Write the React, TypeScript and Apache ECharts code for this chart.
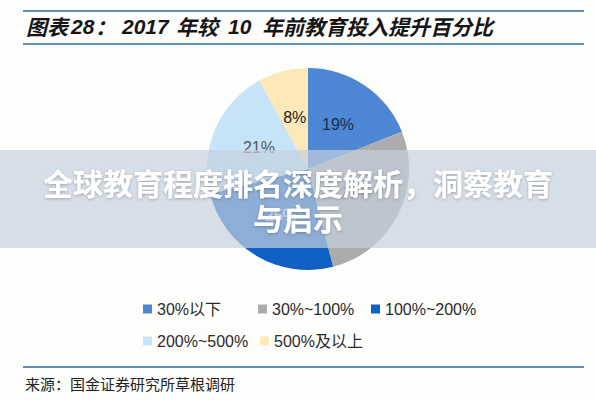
import { useEffect, useRef } from 'react';
import * as echarts from 'echarts';

const categories = ['30%以下', '30%~100%', '100%~200%', '200%~500%', '500%及以上'];
const shares = [19, 27, 25, 21, 8];
const sliceColors = ['#4d87d3', '#acacac', '#1160c4', '#c6e3f8', '#fde9b8'];
const labelColors = ['#1b2d4f', '#6a6a6a', '#ffffff', '#555555', '#222222'];

// legend item anchors (left, centre y) as laid out in the source figure
const legendSpots: [number, number][] = [
  [143, 310],
  [258, 310],
  [371, 310],
  [143, 342],
  [260, 342],
];

const TITLE_PARTS: [string, number][] = [
  ['图表', 26],
  ['28', 71],
  ['：', 95],
  ['2017', 122],
  ['年较', 176],
  ['10', 228],
  ['年前教育投入提升百分比', 262],
];

const LATIN = "Arial, 'Liberation Sans', 'Noto Sans CJK SC', sans-serif";
const CJK = "'Noto Sans CJK SC', sans-serif";

export default function App() {
  const ref = useRef<HTMLDivElement>(null);

  useEffect(() => {
    const el = ref.current;
    if (!el) return;
    const chart = echarts.init(el, undefined, { renderer: 'svg' });

    const ruleStyle = { stroke: '#5f8fb1', lineWidth: 2 };

    chart.setOption({
      animation: false,
      backgroundColor: '#fdfdfb',
      legend: categories.map((name, i) => ({
        data: [name],
        left: legendSpots[i][0],
        top: legendSpots[i][1] - 9,
        padding: 0,
        icon: 'rect',
        itemWidth: 9,
        itemHeight: 9,
        selectedMode: false,
        textStyle: { fontSize: 16, color: '#2b2b2b', fontFamily: LATIN },
      })),
      series: [
        {
          type: 'pie',
          center: [308, 169],
          radius: 101,
          startAngle: 90,
          clockwise: true,
          silent: true,
          label: {
            position: 'inside',
            formatter: '{c}%',
            fontSize: 16,
            fontFamily: LATIN,
          },
          labelLine: { show: false },
          data: categories.map((name, i) => ({
            name,
            value: shares[i],
            itemStyle: { color: sliceColors[i] },
            label: { color: labelColors[i] },
          })),
        },
      ],
      graphic: [
        { type: 'line', shape: { x1: 23, y1: 11, x2: 584, y2: 11 }, style: ruleStyle },
        { type: 'line', shape: { x1: 23, y1: 44, x2: 584, y2: 44 }, style: ruleStyle },
        { type: 'line', shape: { x1: 23, y1: 367, x2: 584, y2: 367 }, style: ruleStyle },
        ...TITLE_PARTS.map(([t, x]) => ({
          type: 'text',
          x,
          y: 26,
          style: {
            text: t,
            fill: '#161616',
            font: `italic bold 21px ${/\d/.test(t) ? LATIN : CJK}`,
            verticalAlign: 'middle',
          },
        })),
        {
          type: 'text',
          x: 25,
          y: 383,
          style: {
            text: '来源：国金证券研究所草根调研',
            fill: '#222',
            font: `15px ${CJK}`,
            verticalAlign: 'middle',
          },
        },
        {
          type: 'rect',
          z: 100,
          shape: { x: 0, y: 150, width: 596, height: 98 },
          style: { fill: 'rgba(196,208,222,0.7)' },
        },
        {
          type: 'text',
          z: 101,
          x: 298,
          y: 182,
          style: {
            text: '全球教育程度排名深度解析，洞察教育',
            fill: '#ffffff',
            font: `bold 30px ${CJK}`,
            align: 'center',
            verticalAlign: 'middle',
            textShadowColor: 'rgba(0,0,0,0.25)',
            textShadowBlur: 3,
            textShadowOffsetY: 1,
          },
        },
        {
          type: 'text',
          z: 101,
          x: 298,
          y: 217,
          style: {
            text: '与启示',
            fill: '#ffffff',
            font: `bold 30px ${CJK}`,
            align: 'center',
            verticalAlign: 'middle',
            textShadowColor: 'rgba(0,0,0,0.25)',
            textShadowBlur: 3,
            textShadowOffsetY: 1,
          },
        },
      ],
    });

    return () => chart.dispose();
  }, []);

  return (
    <div
      ref={ref}
      style={{ position: 'fixed', left: 0, top: 0, width: 596, height: 400 }}
    />
  );
}
